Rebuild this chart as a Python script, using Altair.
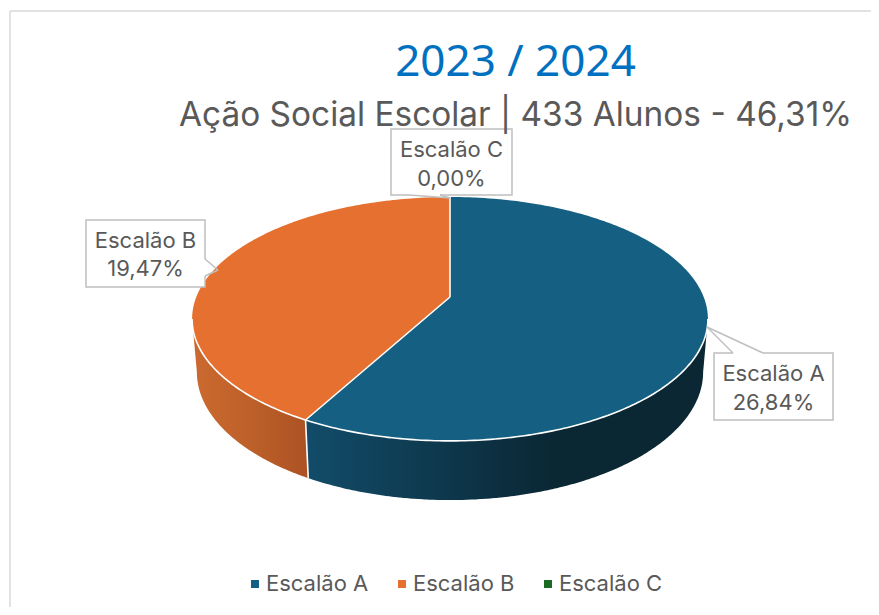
import numpy as np
import pandas as pd
import altair as alt

# ---- values
categories = ["Escalão A", "Escalão B", "Escalão C"]
percentages = [26.84, 19.47, 0.00]
colors = ["#156082", "#E5702F", "#196B24"]
title_text = "2023 / 2024"
subtitle_text = "Ação Social Escolar | 433 Alunos - 46,31%"

FONT = "Inter"
TEXT = "#595959"
BOX = "#BFBFBF"

# ---- perspective model of the pie (screen pixels)
P = 0.18
TOP = dict(cx=450.0, cy=297.0, a=118.0, b=253.7)
BOTTOM = dict(cx=450.0, cy=349.0, a=123.9, b=249.0)
SILH = np.degrees(np.arccos(-P))  # front silhouette angle


def ring(theta_deg, r):
    t = np.radians(np.asarray(theta_deg, dtype=float))
    u, v = np.sin(t), np.cos(t)
    d = 1 + P * v
    return r["cx"] + r["b"] * u / d, r["cy"] - r["a"] * v / d


def envelope(px, py):
    """turn a closed outline into x / y-upper / y-lower rows for an area"""
    xs = np.unique(px)
    x0, y0 = px, py
    x1, y1 = np.roll(px, -1), np.roll(py, -1)
    up, lo = [], []
    for x in xs:
        hit = (np.minimum(x0, x1) <= x + 1e-6) & (np.maximum(x0, x1) >= x - 1e-6)
        ys = []
        for a, b, c, d in zip(x0[hit], y0[hit], x1[hit], y1[hit]):
            if abs(c - a) < 1e-6:
                ys += [b, d]
            else:
                ys.append(b + (d - b) * (x - a) / (c - a))
        up.append(float(min(ys)))
        lo.append(float(max(ys)))
    return pd.DataFrame({"x": np.round(xs, 2), "y": np.round(up, 2), "y2": np.round(lo, 2)})


total = sum(percentages)
edges = np.concatenate([[0], np.cumsum(percentages) / total * 360])

top_rows, line_rows = [], []
wall_frames = {}
for k, (cat, e0, e1) in enumerate(zip(categories, edges[:-1], edges[1:])):
    if e1 - e0 <= 0:
        continue
    th = np.linspace(e0, e1, 160)
    ax, ay = ring(th, TOP)
    ox = np.concatenate([[TOP["cx"]], ax])
    oy = np.concatenate([[TOP["cy"]], ay])
    f = envelope(ox, oy)
    f["cat"] = cat
    top_rows.append(f)
    # side wall: only the front part
    w0, w1 = max(e0, SILH), min(e1, 360 - SILH)
    tw = np.linspace(w0, w1, 120)
    tx, ty = ring(tw, TOP)
    bx, by = ring(tw, BOTTOM)
    wall_frames[cat] = envelope(
        np.concatenate([tx, bx[::-1]]), np.concatenate([ty, by[::-1]])
    )

top_df = pd.concat(top_rows, ignore_index=True)

# white seams
seam = 0
th = np.linspace(SILH, 360 - SILH, 200)
x_, y_ = ring(th, TOP)
for i, (a, b) in enumerate(zip(x_, y_)):
    line_rows.append(dict(g=seam, i=i, x=float(a), y=float(b)))
for e in edges[1:3]:
    seam += 1
    ex, ey = ring([e], TOP)
    bx, by = ring([e], BOTTOM)
    pts = [(TOP["cx"], TOP["cy"]), (ex[0], ey[0])] + (
        [(bx[0], by[0])] if SILH < e < 360 - SILH else []
    )
    for i, (a, b) in enumerate(pts):
        line_rows.append(dict(g=seam, i=i, x=float(a), y=float(b)))
seam_df = pd.DataFrame(line_rows)

# ---- callouts (screen pixels)
boxes = pd.DataFrame(
    {
        "x": [714, 86, 391],
        "x2": [833, 205, 512],
        "y": [353, 220, 129],
        "y2": [420, 287, 195],
    }
)
wedge_lines = pd.DataFrame(
    {
        "x": [707, 707, 205, 218, 409, 450],
        "y": [327, 327, 259, 270, 195, 198],
        "x2": [733, 763, 218, 205, 450, 440],
        "y2": [353, 353, 270, 276, 198, 195],
    }
)
wedge_bases = pd.DataFrame(
    {"x": [733, 205, 409], "y": [353, 259, 195], "x2": [763, 205, 440], "y2": [353, 276, 195]}
)
lab = []
for cat, p, cx, y1, y2 in zip(
    categories, percentages, [773.5, 145.5, 451.5], [374, 241, 150], [403, 269, 179]
):
    lab.append(dict(x=cx, y=y1, t=cat))
    lab.append(dict(x=cx, y=y2, t=f"{p:.2f}%".replace(".", ",")))
labels_df = pd.DataFrame(lab)

frame_df = pd.DataFrame({"x": [10, 10], "y": [11, 11], "x2": [871, 10], "y2": [11, 607]})

X = alt.X("x:Q", axis=None, scale=alt.Scale(domain=[8, 871], nice=False, zero=False))
Y = alt.Y("y:Q", axis=None, scale=alt.Scale(domain=[607, 8], nice=False, zero=False))


def wall(cat, stops):
    return (
        alt.Chart(wall_frames[cat])
        .mark_area(
            color=alt.Gradient(
                gradient="linear",
                x1=0, x2=1, y1=0, y2=0,
                stops=[alt.GradientStop(offset=o, color=c) for o, c in stops],
            )
        )
        .encode(x=X, y=Y, y2="y2:Q")
    )


frame = (
    alt.Chart(frame_df)
    .mark_rule(color="#D9D9D9", strokeWidth=1.5)
    .encode(x=X, y=Y, x2="x2:Q", y2="y2:Q")
)
wall_b = wall("Escalão B", [(0, "#CB6A30"), (0.5, "#BD6029"), (1, "#AC5223")])
wall_a = wall(
    "Escalão A",
    [(0, "#124C69"), (0.3, "#0E3A50"), (0.62, "#0A2734"), (1, "#0A2733")],
)
tops = (
    alt.Chart(top_df)
    .mark_area()
    .encode(
        x=X,
        y=Y,
        y2="y2:Q",
        color=alt.Color(
            "cat:N",
            scale=alt.Scale(domain=categories, range=colors),
            legend=alt.Legend(
                orient="none",
                legendX=236,
                legendY=565,
                direction="horizontal",
                title=None,
                symbolType="square",
                symbolSize=64,
                symbolStrokeWidth=0,
                labelFont=FONT,
                labelFontSize=22,
                labelColor=TEXT,
                labelOffset=0,
                columnPadding=22,
            ),
        ),
    )
)
seams = (
    alt.Chart(seam_df)
    .mark_line(color="white", strokeWidth=1.6)
    .encode(x=X, y=Y, detail="g:N", order="i:Q")
)
box_marks = (
    alt.Chart(boxes)
    .mark_rect(fill="white", stroke=BOX, strokeWidth=1.5)
    .encode(x=X, x2="x2:Q", y=Y, y2="y2:Q")
)
base_marks = (
    alt.Chart(wedge_bases)
    .mark_rule(color="white", strokeWidth=2)
    .encode(x=X, x2="x2:Q", y=Y, y2="y2:Q")
)
wedge_marks = (
    alt.Chart(wedge_lines)
    .mark_rule(color=BOX, strokeWidth=1.5)
    .encode(x=X, x2="x2:Q", y=Y, y2="y2:Q")
)
text_marks = (
    alt.Chart(labels_df)
    .mark_text(font=FONT, fontSize=22, color=TEXT, align="center", baseline="middle")
    .encode(x=X, y=Y, text="t:N")
)

chart = (
    alt.layer(frame, wall_b, wall_a, tops, seams, box_marks, base_marks, wedge_marks, text_marks)
    .properties(
        width=863,
        height=599,
        padding=0,
        autosize=alt.AutoSizeParams(type="none", contains="content"),
        background="white",
        title=alt.TitleParams(
            text=title_text,
            subtitle=subtitle_text,
            anchor="middle",
            frame="group",
            orient="top",
            dx=76,
            dy=128,
            font="Noto Sans",
            subtitleFont=FONT,
            fontSize=44,
            fontWeight="normal",
            color="#0070C0",
            subtitleFontSize=33.4,
            subtitleColor=TEXT,
            subtitlePadding=15,
        ),
    )
    .resolve_scale(x="shared", y="shared")
    .configure_view(stroke=None)
)

chart.save("out.html", embed_options={"renderer": "svg", "actions": False})
